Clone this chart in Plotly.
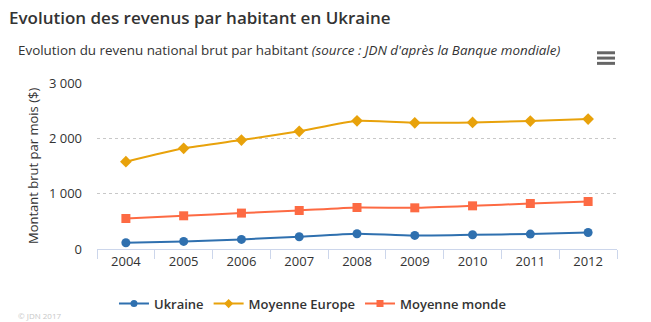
import plotly.graph_objects as go

years = ["2004", "2005", "2006", "2007", "2008", "2009", "2010", "2011", "2012"]
ukraine = [113, 137, 173, 222, 276, 245, 258, 270, 299]
europe = [1578, 1820, 1969, 2126, 2317, 2281, 2288, 2312, 2348]
monde = [551, 600, 649, 696, 750, 744, 780, 822, 858]
y_ticks = [0, 1000, 2000, 3000]
y_ticktext = ["0", "1 000", "2 000", "3 000"]

FONT = "Open Sans"
TXT = "#333333"

fig = go.Figure()
series = [
    ("Ukraine", ukraine, "#2f70af", "circle", 9),
    ("Moyenne Europe", europe, "#e8a20b", "diamond", 9),
    ("Moyenne monde", monde, "#fd6a43", "square", 9),
]
for name, vals, col, sym, sz in series:
    fig.add_trace(go.Scatter(
        x=years, y=vals, name=name, mode="lines+markers", showlegend=False,
        legendgroup=name,
        line=dict(color=col, width=2, shape="spline", smoothing=0.5),
        marker=dict(symbol=sym, size=sz, color=col),
    ))
for name, vals, col, sym, sz in series:
    fig.add_trace(go.Scatter(
        x=[None], y=[None], name=name, mode="lines+markers", legendgroup=name,
        line=dict(color=col, width=2),
        marker=dict(symbol=sym, size=7, color=col),
    ))

fig.update_layout(
    width=651, height=322,
    margin=dict(l=97, r=34, t=83, b=73),
    paper_bgcolor="white", plot_bgcolor="white",
    font=dict(family=FONT, color=TXT, size=13),
    showlegend=True,
    legend=dict(orientation="h", xref="container", yref="container",
                x=0.48, xanchor="center", y=0.057, yanchor="middle",
                font=dict(size=13, color=TXT, weight=600),
                itemwidth=30, tracegroupgap=0),
    xaxis=dict(
        type="category", range=[-0.5, 8.5],
        showline=True, linecolor="#ccd6eb", linewidth=1,
        ticks="outside", tickson="boundaries", ticklen=9, tickcolor="#ccd6eb",
        showgrid=False, tickfont=dict(size=13, color=TXT), fixedrange=True,
    ),
    yaxis=dict(
        range=[0, 3000], tickvals=y_ticks, ticktext=y_ticktext,
        showgrid=True, gridcolor="#c8c8c8", griddash="dot", gridwidth=1,
        zeroline=False, showline=False, ticks="",
        ticklabelstandoff=14,
        tickfont=dict(size=13, color=TXT), fixedrange=True,
    ),
    annotations=[
        dict(text="Evolution des revenus par habitant en Ukraine",
             xref="paper", yref="paper", x=(7 - 97) / 520, y=1 + (83 - 17) / 166.5,
             xanchor="left", yanchor="middle", showarrow=False,
             font=dict(size=17, color=TXT, weight=600)),
        dict(text="Evolution du revenu national brut par habitant <i>(source : JDN d'après la Banque mondiale)</i>",
             xref="paper", yref="paper", x=(16 - 97) / 520, y=1 + (83 - 50) / 166.5,
             xanchor="left", yanchor="middle", showarrow=False,
             font=dict(size=13.4, color=TXT)),
        dict(text="Montant brut par mois ($)", textangle=-90,
             xref="paper", yref="paper", x=(33 - 97) / 520, y=0.5,
             xanchor="center", yanchor="middle", showarrow=False,
             font=dict(size=13, color=TXT)),
        dict(text="© JDN 2017",
             xref="paper", yref="paper", x=(16 - 97) / 520, y=-(316 - 249.3) / 166.5,
             xanchor="left", yanchor="middle", showarrow=False,
             font=dict(size=8, color="#c8c8c8")),
    ],
    shapes=[
        dict(type="rect", xref="paper", yref="paper",
             x0=(597 - 97) / 520, x1=(615 - 97) / 520,
             y0=1 + (83 - (yy + 1.5)) / 166.5, y1=1 + (83 - (yy - 1.5)) / 166.5,
             fillcolor="#666666", line=dict(width=0))
        for yy in (52.7, 58, 63.3)
    ],
)

fig.write_html("out.html")
